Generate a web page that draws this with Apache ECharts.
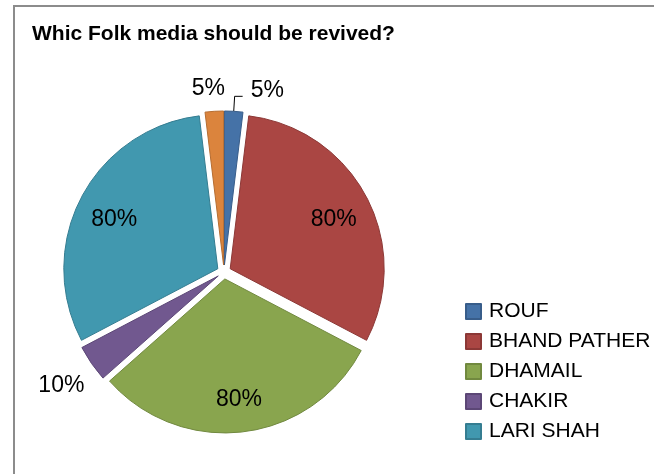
<!DOCTYPE html>
<html>
<head>
<meta charset="utf-8">
<script src="https://cdn.jsdelivr.net/npm/echarts@6/dist/echarts.min.js"></script>
<style>
  html, body { margin: 0; padding: 0; background: #fff; }
  #chart { width: 654px; height: 474px; }
</style>
</head>
<body>
<div id="chart"></div>
<script>
// Survey answers: which folk media should be revived (percent of respondents)
const chartTitle = 'Whic Folk media should be revived?';
const categories = ['ROUF', 'BHAND PATHER', 'DHAMAIL', 'CHAKIR', 'LARI SHAH', 'OTHER'];
const values = [5, 80, 80, 10, 80, 5];
const legendItems = ['ROUF', 'BHAND PATHER', 'DHAMAIL', 'CHAKIR', 'LARI SHAH'];

// Slice fills and their darker outlines
const fills = ['#4572A7', '#AA4643', '#89A54E', '#71588F', '#4198AF', '#DB843D'];
const edges = ['#385d8a', '#8c3836', '#71893f', '#5c4776', '#357d91', '#b66d31'];

// Small slices carry their label outside the pie
const outsideLabels = {
  'ROUF':   { line: true,  length: 15, length2: 8, gap: 8, raised: true },
  'OTHER':  { line: false, length: 23, length2: 0, gap: -12, raised: false },
  'CHAKIR': { line: false, length: 39, length2: 0, gap: -25, raised: false }
};

const FONT = 'Liberation Sans, Arial, sans-serif';
const center = [224, 272];
const pieRadius = 154;

const chart = echarts.init(document.getElementById('chart'), null, { renderer: 'canvas' });

const pieData = categories.map((name, i) => {
  const o = outsideLabels[name];
  let label = { show: false };
  if (o) {
    label = { show: true, distanceToLabelLine: o.gap };
    if (o.raised) {
      // text sits above the end of its leader line
      label.formatter = '{v|{c}%}\n{s|}';
      label.rich = {
        v: { fontFamily: FONT, fontSize: 23, color: '#000', lineHeight: 24 },
        s: { lineHeight: 12 }
      };
    }
  }
  return {
    name: name,
    value: values[i],
    selected: true,
    itemStyle: { color: fills[i], borderColor: edges[i], borderWidth: 1 },
    label: label,
    labelLine: o ? { show: o.line, length: o.length, length2: o.length2 } : { show: false }
  };
});

// Transparent twin pie used only to place the large in-slice labels
const innerLabelData = categories.map((name, i) => ({
  name: name,
  value: values[i],
  label: { show: !outsideLabels[name] }
}));

chart.setOption({
  animation: false,
  backgroundColor: '#ffffff',
  graphic: [{
    type: 'rect',
    shape: { x: 14, y: 6, width: 642, height: 480 },
    style: { fill: 'none', stroke: '#8c8c8c', lineWidth: 2 },
    silent: true
  }],
  title: {
    text: chartTitle,
    left: 32,
    top: 24,
    padding: 0,
    textStyle: { fontFamily: FONT, fontSize: 21, fontWeight: 'bold', color: '#000' }
  },
  legend: {
    orient: 'vertical',
    left: 460,
    top: 296,
    itemWidth: 15,
    itemHeight: 15,
    itemGap: 9,
    data: legendItems,
    icon: 'rect',
    selectedMode: false,
    textStyle: { fontFamily: FONT, fontSize: 21, color: '#000', padding: [0, 0, 0, 3] }
  },
  series: [
    {
      type: 'pie',
      center: center,
      radius: pieRadius,
      startAngle: 90,
      clockwise: true,
      selectedMode: 'multiple',
      selectedOffset: 7,
      avoidLabelOverlap: false,
      emphasis: { disabled: true },
      label: {
        position: 'outside',
        formatter: '{c}%',
        fontFamily: FONT,
        fontSize: 23,
        color: '#000'
      },
      labelLine: { lineStyle: { color: '#000', width: 1 }, smooth: false },
      data: pieData
    },
    {
      type: 'pie',
      silent: true,
      center: center,
      radius: 242,
      startAngle: 90,
      clockwise: true,
      avoidLabelOverlap: false,
      legendHoverLink: false,
      itemStyle: { color: 'transparent', borderWidth: 0 },
      label: {
        position: 'inside',
        formatter: '{c}%',
        fontFamily: FONT,
        fontSize: 23,
        color: '#000',
        offset: [0, 5]
      },
      labelLine: { show: false },
      data: innerLabelData
    }
  ]
});
</script>
</body>
</html>
